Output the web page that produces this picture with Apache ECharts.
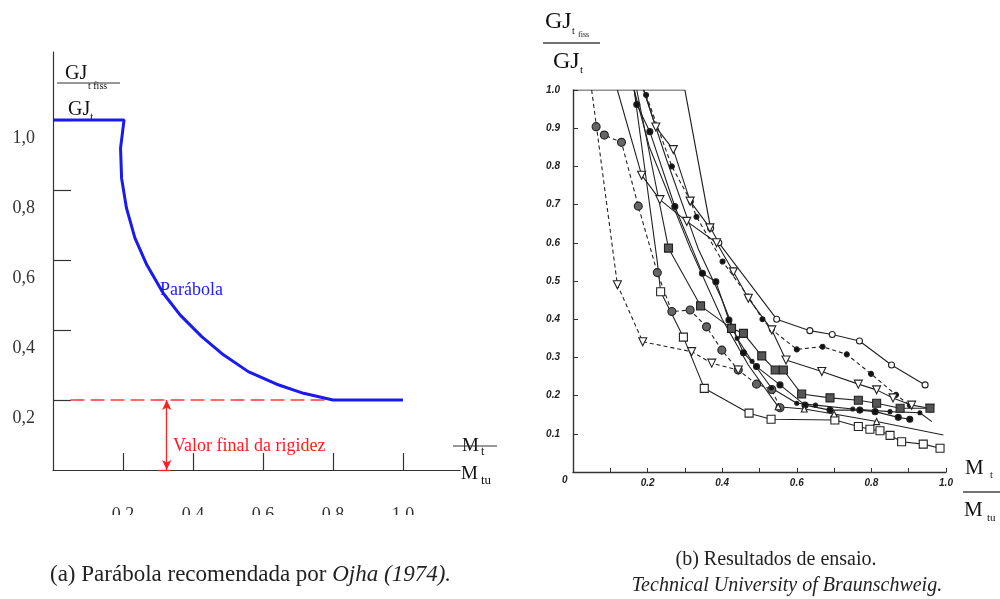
<!DOCTYPE html>
<html><head><meta charset="utf-8">
<script src="https://cdn.jsdelivr.net/npm/echarts@6/dist/echarts.min.js"></script>
<style>html,body{margin:0;padding:0;background:#fff}#c{width:1000px;height:599px}</style>
</head><body><div id="c"></div>
<script>
// ---------- Panel (a): Ojha parabola ----------
const aTicks = [0.2, 0.4, 0.6, 0.8, 1.0];
const aParabola = [[0,1.0],[0.203,1.0],[0.193,0.919],[0.196,0.833],[0.21,0.748],[0.234,0.663],[0.268,0.586],
  [0.315,0.505],[0.363,0.443],[0.425,0.381],[0.487,0.329],[0.558,0.281],[0.639,0.245],[0.716,0.219],[0.8,0.2],[1.0,0.2]];
const aFinalLine = [[0.05,0.2],[0.8,0.2]];
const aArrowX = 0.325;
const aFinalValue = 0.2;

// ---------- Panel (b): test results (Braunschweig) ----------
const bXLabels = [0.2, 0.4, 0.6, 0.8, 1.0];
const bYLabels = [0.1,0.2,0.3,0.4,0.5,0.6,0.7,0.8,0.9,1.0];
const bFrame = [[0,1.0],[0.3,1.0],[0.369,0.638]];
const bOpenCircles = [[0.369,0.638],[0.391,0.600],[0.546,0.40],[0.635,0.37],[0.695,0.36],[0.768,0.343],[0.854,0.28],[0.944,0.228]];
const bDashedDots = [[0.196,0.987],[0.265,0.80],[0.316,0.708],[0.331,0.668],[0.401,0.551],[0.47,0.459],[0.508,0.40],[0.533,0.373],[0.60,0.321],[0.669,0.328],[0.734,0.308],[0.799,0.257],[0.866,0.202],[0.903,0.175]];
const bOpenTriA = [[0.19,1.0],[0.222,0.903],[0.269,0.844],[0.314,0.709],[0.367,0.639]];
const bOpenTriB = [[0.119,1.0],[0.184,0.777],[0.233,0.713],[0.305,0.656],[0.385,0.60],[0.43,0.524],[0.47,0.455],[0.533,0.372],[0.571,0.293],[0.667,0.263],[0.765,0.23],[0.814,0.215],[0.858,0.194],[0.908,0.175],[0.957,0.167]];
const bSquares = [[0.164,1.0],[0.226,0.55],[0.235,0.472],[0.296,0.353],[0.352,0.219],[0.472,0.154],[0.531,0.138],[0.702,0.136],[0.765,0.119],[0.796,0.112],[0.823,0.108],[0.85,0.096],[0.881,0.079],[0.939,0.073],[0.984,0.062]];
const bHatched = [[0.062,0.904],[0.084,0.882],[0.13,0.863],[0.175,0.696],[0.226,0.522],[0.265,0.42],[0.314,0.424],[0.358,0.38],[0.399,0.319],[0.443,0.267],[0.492,0.23],[0.533,0.216],[0.555,0.168]];
const bDashedTri = [[0.05,1.0],[0.119,0.49],[0.187,0.341],[0.318,0.315],[0.372,0.285],[0.443,0.267]];
const bDarkSquares = [[0.171,1.0],[0.256,0.586],[0.342,0.435],[0.425,0.376],[0.457,0.363],[0.506,0.304],[0.542,0.267],[0.564,0.267],[0.613,0.204],[0.689,0.194],[0.765,0.188],[0.814,0.18],[0.877,0.167],[0.957,0.167]];
const bDarkCircles = [[0.164,1.0],[0.171,0.962],[0.206,0.891],[0.273,0.695],[0.347,0.52],[0.383,0.498],[0.418,0.398],[0.457,0.312],[0.492,0.276],[0.555,0.228],[0.622,0.175],[0.689,0.162],[0.769,0.162],[0.81,0.158],[0.872,0.143],[0.903,0.138]];
const bPlainA = [[0.164,1.0],[0.205,0.85],[0.314,0.586],[0.40,0.40],[0.47,0.28],[0.55,0.171],[0.62,0.165],[0.70,0.152],[0.814,0.132],[0.993,0.097]];
const bPlainB = [[0.189,1.0],[0.25,0.82],[0.335,0.586],[0.40,0.45],[0.44,0.35],[0.48,0.29],[0.532,0.22],[0.60,0.18],[0.65,0.175],[0.75,0.165],[0.85,0.158],[0.93,0.155],[0.962,0.132]];

const chart = echarts.init(document.getElementById('c'));
const serif = 'Liberation Serif';
const ink = '#222';

function bSeries(data, opt) {
  const skip = opt.skip || 0;
  const noEnd = opt.noEnd || 0;
  return {
    type: 'line', xAxisIndex: 1, yAxisIndex: 1, silent: true, animation: false,
    data: data.map((p, i) => (i < skip || i >= data.length - noEnd) ? {value: p, symbol: 'none'} : {value: p}),
    symbol: opt.symbol || 'circle', symbolSize: opt.size || 6, symbolRotate: opt.rotate || 0,
    showAllSymbol: true,
    lineStyle: {color: ink, width: 1.1, type: opt.dash ? [4, 3] : 'solid'},
    itemStyle: {color: opt.fill || '#fff', borderColor: ink, borderWidth: 1.1},
    z: 3
  };
}

const option = {
  backgroundColor: '#fff',
  animation: false,
  grid: [
    {left: 53, top: 52, width: 407, height: 418},
    {left: 573, top: 90, width: 373, height: 382}
  ],
  xAxis: [
    {type: 'value', gridIndex: 0, min: 0, max: 1.163, splitLine: {show: false},
     axisLine: {lineStyle: {color: '#333', width: 1.2}},
     axisTick: {inside: true, length: 17, customValues: aTicks, lineStyle: {color: '#333', width: 1.2}},
     axisLabel: {customValues: aTicks, formatter: v => v.toFixed(1), margin: 36, fontFamily: serif, fontSize: 18, color: '#333'}},
    {type: 'value', gridIndex: 1, min: 0, max: 1.0, interval: 0.1, splitLine: {show: false},
     axisLine: {lineStyle: {color: '#333', width: 1.4}},
     axisTick: {inside: true, length: 4, lineStyle: {color: '#333'}},
     axisLabel: {customValues: bXLabels, formatter: v => v.toFixed(1), margin: 6, fontFamily: 'Liberation Sans', fontStyle: 'italic', fontWeight: 'bold', fontSize: 10, color: '#222'}}
  ],
  yAxis: [
    {type: 'value', gridIndex: 0, min: 0, max: 1.194, splitLine: {show: false},
     axisLine: {lineStyle: {color: '#333', width: 1.2}},
     axisTick: {inside: true, length: 18, customValues: aTicks, lineStyle: {color: '#333', width: 1.2}},
     axisLabel: {customValues: aTicks, formatter: v => v.toFixed(1).replace('.', ','), margin: 18, verticalAlign: 'top', padding: [9, 0, 0, 0], fontFamily: serif, fontSize: 18, color: '#333'}},
    {type: 'value', gridIndex: 1, min: 0, max: 1.0, interval: 0.1, splitLine: {show: false},
     axisLine: {lineStyle: {color: '#333', width: 1.4}},
     axisTick: {inside: true, length: 5, lineStyle: {color: '#333'}},
     axisLabel: {customValues: bYLabels, formatter: v => v.toFixed(1), margin: 13, fontFamily: 'Liberation Sans', fontStyle: 'italic', fontWeight: 'bold', fontSize: 10, color: '#222'}}
  ],
  series: [
    {type: 'line', xAxisIndex: 0, yAxisIndex: 0, data: aFinalLine, symbol: 'none', silent: true,
     lineStyle: {color: '#ff3a3a', width: 1.3, type: [14, 6]}, z: 2,
     markLine: {silent: true, animation: false, label: {show: false},
       data: [
         [{coord: [aArrowX, 0], symbol: 'arrow', symbolSize: [7, 10]}, {coord: [aArrowX, aFinalValue], symbol: 'arrow', symbolSize: [7, 10]}],
         [{coord: [aArrowX - 0.024, 0], symbol: 'none'}, {coord: [aArrowX + 0.01, 0], symbol: 'none'}]
       ],
       lineStyle: {color: '#ff2020', width: 1.3, type: 'solid'}}},
    {type: 'line', xAxisIndex: 0, yAxisIndex: 0, data: aParabola, symbol: 'none', silent: true,
     lineStyle: {color: '#1a1af0', width: 3}, z: 4},
    {type: 'line', xAxisIndex: 1, yAxisIndex: 1, data: bFrame, symbol: 'none', silent: true,
     lineStyle: {color: ink, width: 1.2}},
    bSeries(bOpenCircles, {symbol: 'circle', size: 6}),
    bSeries(bDashedDots, {symbol: 'circle', size: 5, fill: '#111', dash: true}),
    bSeries(bOpenTriA, {symbol: 'triangle', size: 8, rotate: 180, skip: 1}),
    bSeries(bOpenTriB, {symbol: 'triangle', size: 8, rotate: 180, skip: 1}),
    bSeries(bSquares, {symbol: 'rect', size: 8, skip: 2}),
    bSeries(bHatched, {symbol: 'circle', size: 8, fill: '#666', dash: true}),
    bSeries(bDashedTri, {symbol: 'triangle', size: 8, rotate: 180, skip: 1, dash: true}),
    bSeries(bDarkSquares, {symbol: 'rect', size: 8, fill: '#555', skip: 1}),
    bSeries(bDarkCircles, {symbol: 'circle', size: 6, fill: '#111', skip: 1}),
    bSeries(bPlainA, {symbol: 'triangle', size: 6, skip: 5, noEnd: 1}),
    bSeries(bPlainB, {symbol: 'circle', size: 4, fill: '#111', skip: 4, noEnd: 1})
  ],
  graphic: [
    {type: 'rect', shape: {x: 95, y: 515, width: 350, height: 22}, style: {fill: '#fff'}, z: 100},
    // panel (a) axis titles
    {type: 'text', x: 65, y: 64, style: {text: 'GJ', font: '20px "Liberation Serif"', fill: '#111'}},
    {type: 'text', x: 88, y: 81, style: {text: 't fiss', font: '10px "Liberation Serif"', fill: '#111'}},
    {type: 'line', shape: {x1: 57, y1: 83, x2: 120, y2: 83}, style: {stroke: '#333', lineWidth: 1.2}},
    {type: 'text', x: 68, y: 100, style: {text: 'GJ', font: '20px "Liberation Serif"', fill: '#111'}},
    {type: 'text', x: 90, y: 112, style: {text: 't', font: '12px "Liberation Serif"', fill: '#111'}},
    {type: 'text', x: 462, y: 437, style: {text: 'M', font: '19px "Liberation Serif"', fill: '#111'}},
    {type: 'text', x: 481, y: 446, style: {text: 't', font: '12px "Liberation Serif"', fill: '#111'}},
    {type: 'line', shape: {x1: 453, y1: 446, x2: 497, y2: 446}, style: {stroke: '#333', lineWidth: 1.2}},
    {type: 'text', x: 461, y: 465, style: {text: 'M', font: '19px "Liberation Serif"', fill: '#111'}},
    {type: 'text', x: 481, y: 474, style: {text: 'tu', font: '13px "Liberation Serif"', fill: '#111'}},
    {type: 'text', x: 160, y: 281, style: {text: 'Parábola', font: '18px "Liberation Serif"', fill: '#2020f0'}},
    {type: 'text', x: 173, y: 437, style: {text: 'Valor final da rigidez', font: '18px "Liberation Serif"', fill: '#ff1a1a'}},
    // panel (b) axis titles
    {type: 'text', x: 545, y: 10, style: {text: 'GJ', font: '24px "Liberation Serif"', fill: '#111'}},
    {type: 'text', x: 572, y: 26, style: {text: 't', font: '10px "Liberation Serif"', fill: '#111'}},
    {type: 'text', x: 578, y: 31, style: {text: 'fiss', font: '8px "Liberation Serif"', fill: '#111'}},
    {type: 'line', shape: {x1: 543, y1: 43, x2: 600, y2: 43}, style: {stroke: '#444', lineWidth: 1.5}},
    {type: 'text', x: 553, y: 50, style: {text: 'GJ', font: '24px "Liberation Serif"', fill: '#111'}},
    {type: 'text', x: 580, y: 65, style: {text: 't', font: '11px "Liberation Serif"', fill: '#111'}},
    {type: 'text', x: 965, y: 458, style: {text: 'M', font: '21px "Liberation Serif"', fill: '#111'}},
    {type: 'text', x: 990, y: 470, style: {text: 't', font: '10px "Liberation Serif"', fill: '#111'}},
    {type: 'line', shape: {x1: 963, y1: 492, x2: 1000, y2: 492}, style: {stroke: '#444', lineWidth: 1.5}},
    {type: 'text', x: 964, y: 500, style: {text: 'M', font: '21px "Liberation Serif"', fill: '#111'}},
    {type: 'text', x: 987, y: 513, style: {text: 'tu', font: '11px "Liberation Serif"', fill: '#111'}},
    {type: 'text', x: 562, y: 475, style: {text: '0', font: 'italic bold 10px "Liberation Sans"', fill: '#222'}},
    // captions
    {type: 'text', x: 50, y: 563, style: {text: '{n|(a) Parábola recomendada por }{i|Ojha (1974).}',
      rich: {n: {font: '23px "Liberation Serif"', fill: '#222'}, i: {font: 'italic 23px "Liberation Serif"', fill: '#222'}}}},
    {type: 'text', x: 776, y: 550, style: {text: '(b) Resultados de ensaio.', font: '20px "Liberation Serif"', fill: '#222', align: 'center'}},
    {type: 'text', x: 787, y: 576, style: {text: 'Technical University of Braunschweig.', font: 'italic 20px "Liberation Serif"', fill: '#222', align: 'center'}}
  ]
};
chart.setOption(option);
</script>
</body></html>
